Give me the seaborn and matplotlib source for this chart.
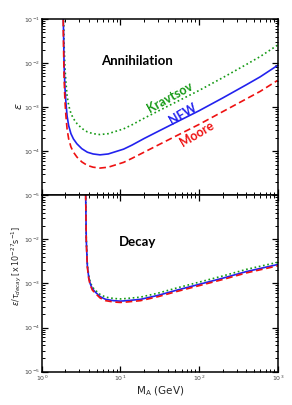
import numpy as np
import pandas as pd
import matplotlib
matplotlib.use("Agg")
import matplotlib.pyplot as plt
import seaborn as sns
from matplotlib.ticker import LogLocator, NullFormatter, FuncFormatter

# ---------------- data ----------------
mass_ann = [1.86, 1.88, 1.92, 1.97, 2.03, 2.10, 2.2, 2.35, 2.53, 2.8, 3.23, 3.8,
            4.5, 5.5, 7.0, 8.6, 11, 14, 20, 30, 50, 100, 200, 400, 600, 1000]
log_nfw_ann = [0.0, -1.0, -2.0, -2.55, -2.9, -3.2, -3.42, -3.6, -3.72, -3.83, -3.94, -4.02,
               -4.06, -4.08, -4.06, -4.01, -3.95, -3.86, -3.71, -3.55, -3.35, -3.08, -2.79,
               -2.49, -2.31, -2.05]
log_krav_ann = [0.46, -0.54, -1.54, -2.09, -2.44, -2.74, -2.96, -3.14, -3.26, -3.37, -3.48,
                -3.56, -3.60, -3.62, -3.60, -3.55, -3.49, -3.40, -3.25, -3.09, -2.89, -2.62,
                -2.33, -2.03, -1.85, -1.59]
log_moore_ann = [-0.3, -1.3, -2.3, -2.85, -3.2, -3.5, -3.72, -3.9, -4.02, -4.13, -4.24, -4.32,
                 -4.36, -4.38, -4.36, -4.31, -4.25, -4.16, -4.02, -3.86, -3.66, -3.39, -3.10,
                 -2.81, -2.64, -2.39]

mass_dec = [3.58, 3.62, 3.68, 3.8, 3.95, 4.12, 4.4, 4.77, 5.53, 6.5, 8.2, 10, 12, 18, 30,
            50, 100, 200, 400, 1000]
log_nfw_dec = [0.0, -1.0, -2.0, -2.6, -2.85, -3.0, -3.12, -3.19, -3.30, -3.36, -3.39, -3.40,
               -3.39, -3.36, -3.27, -3.16, -3.02, -2.88, -2.73, -2.57]
log_krav_dec = [0.03, -0.97, -1.97, -2.57, -2.81, -2.96, -3.08, -3.15, -3.25, -3.31, -3.34,
                -3.35, -3.34, -3.31, -3.22, -3.11, -2.97, -2.83, -2.68, -2.52]
log_moore_dec = [-0.03, -1.03, -2.03, -2.63, -2.88, -3.03, -3.15, -3.22, -3.33, -3.39, -3.42,
                 -3.43, -3.42, -3.39, -3.30, -3.19, -3.05, -2.91, -2.76, -2.60]

profiles = ["Kravtsov", "NFW", "Moore"]
colors = {"Kravtsov": "#159a15", "NFW": "#2222ee", "Moore": "#ee1111"}
styles = {"Kravtsov": (0, (1, 1.6)), "NFW": "-", "Moore": (0, (4, 2.2))}

def frame(mass, logs):
    rows = []
    for name, lv in zip(profiles, logs):
        for m, v in zip(mass, lv):
            rows.append({"M": m, "val": 10.0 ** v, "profile": name})
    return pd.DataFrame(rows)

df_ann = frame(mass_ann, [log_krav_ann, log_nfw_ann, log_moore_ann])
df_dec = frame(mass_dec, [log_krav_dec, log_nfw_dec, log_moore_dec])

# ---------------- figure ----------------
sns.set_style("ticks")
plt.rcParams["font.family"] = ["DejaVu Sans"]
plt.rcParams["mathtext.fontset"] = "dejavusans"

fig = plt.figure(figsize=(2.92, 4.05), dpi=100)
ax1 = fig.add_axes([0.143, 0.5175, 0.808, 0.4355])
ax2 = fig.add_axes([0.143, 0.0823, 0.808, 0.4355], sharex=ax1)

def pow_fmt(v, pos):
    e = int(round(np.log10(v)))
    return r"$10^{%d}$" % e

for ax, df in ((ax1, df_ann), (ax2, df_dec)):
    for name in profiles:
        sub = df[df["profile"] == name]
        sns.lineplot(data=sub, x="M", y="val", ax=ax, color=colors[name],
                     linewidth=1.2, linestyle=styles[name], legend=False,
                     estimator=None, sort=True)
    ax.set_xscale("log")
    ax.set_yscale("log")
    ax.set_xlim(1, 1000)
    ax.set_ylim(1e-5, 1e-1)
    ax.xaxis.set_major_locator(LogLocator(base=10, numticks=10))
    ax.xaxis.set_minor_locator(LogLocator(base=10, subs=np.arange(2, 10), numticks=10))
    ax.yaxis.set_major_locator(LogLocator(base=10, numticks=10))
    ax.yaxis.set_minor_locator(LogLocator(base=10, subs=np.arange(2, 10), numticks=10))
    ax.yaxis.set_minor_formatter(NullFormatter())
    ax.xaxis.set_minor_formatter(NullFormatter())
    ax.tick_params(which="both", direction="in", top=True, right=True,
                   labelsize=4.5, labelcolor="#444444", color="black", pad=1.5)
    ax.tick_params(which="major", length=4.5, width=0.9)
    ax.tick_params(which="minor", length=2.5, width=0.7)
    for sp in ax.spines.values():
        sp.set_linewidth(1.1)
        sp.set_color("black")
    ax.set_xlabel("")
    ax.set_ylabel("")

ax1.tick_params(labelbottom=False)
# the lower panel does not repeat the 10^-1 label at the shared edge
ax2.yaxis.set_major_formatter(FuncFormatter(
    lambda v, p: "" if v > 0.05 else pow_fmt(v, p)))

ax1.set_ylabel(r"$\varepsilon$", fontsize=8, labelpad=2)
ax1.yaxis.set_label_coords(-0.075, 0.505)
ax2.set_ylabel(r"$\varepsilon/\tau_{decay}\,[\,\mathrm{x}\,10^{-27}\mathrm{s}^{-1}]$",
               fontsize=5.8)
ax2.yaxis.set_label_coords(-0.075, 0.60)
ax2.set_xlabel(r"M$_\mathrm{A}$ (GeV)", fontsize=7.5, labelpad=1)

lab = dict(fontweight="bold", family=["Lato", "DejaVu Sans"],
           ha="center", va="center")
ax1.text(0.404, 0.764, "Annihilation", transform=ax1.transAxes, color="black",
         fontsize=9.5, **lab)
ax1.text(0.544, 0.555, "Kravtsov", transform=ax1.transAxes, color=colors["Kravtsov"],
         rotation=29, fontsize=9, **lab)
ax1.text(0.600, 0.460, "NFW", transform=ax1.transAxes, color=colors["NFW"],
         rotation=30, fontsize=9, **lab)
ax1.text(0.659, 0.347, "Moore", transform=ax1.transAxes, color=colors["Moore"],
         rotation=31, fontsize=9, **lab)
ax2.text(0.404, 0.735, "Decay", transform=ax2.transAxes, color="black",
         fontsize=9.5, **lab)

fig.savefig("out.png", dpi=100)
